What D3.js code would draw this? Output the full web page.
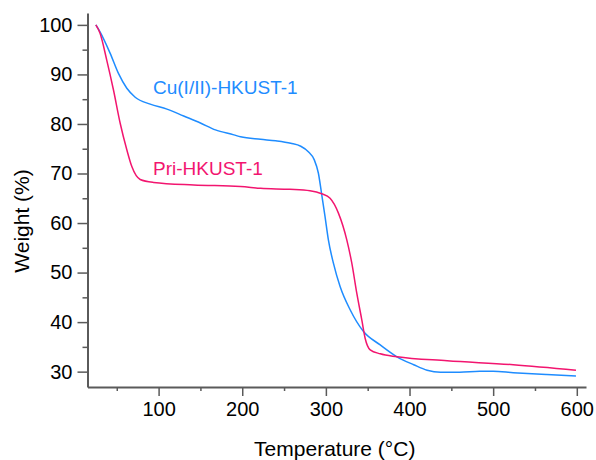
<!DOCTYPE html>
<html>
<head>
<meta charset="utf-8">
<script src="https://cdn.jsdelivr.net/npm/d3@7"></script>
<style>
body { margin: 0; background: #fff; }
text { font-family: "Liberation Sans", Arial, sans-serif; }
</style>
</head>
<body>
<script>
// readings: temperature (°C) and weight (%)
const cuT = [25, 30, 42, 52, 62, 72, 90, 110, 130, 150, 168, 190, 198, 222, 240, 258, 270, 279, 286, 291, 295, 299, 303, 309, 317, 329, 345, 365, 385, 405, 421, 437, 460, 484, 500, 524, 564, 599];
const cuW = [100, 98.6, 94.3, 90.2, 87.2, 85.4, 84.0, 83.0, 81.6, 80.2, 78.8, 77.8, 77.4, 76.9, 76.6, 76.1, 75.5, 74.4, 72.8, 70.1, 65.8, 61.3, 56.6, 51.9, 47.2, 42.5, 38.1, 35.4, 33.0, 31.4, 30.3, 29.9, 29.9, 30.1, 30.1, 29.8, 29.4, 29.1];

const priT = [25, 30, 38, 46, 54, 62, 68, 78, 94, 142, 198, 222, 257, 281, 295, 305, 315, 325, 331, 337, 343, 347, 353, 365, 385, 445, 524, 599];
const priW = [100, 98.3, 92.9, 86.9, 80.2, 74.8, 71.4, 68.8, 68.2, 67.7, 67.4, 67.0, 66.8, 66.5, 65.9, 65.0, 62.0, 56.6, 51.9, 45.8, 40.4, 36.7, 34.4, 33.6, 33.0, 32.2, 31.4, 30.3];

const xMajor = [100, 200, 300, 400, 500, 600];
const xMinor = [50, 150, 250, 350, 450, 550];
const yMajor = [30, 40, 50, 60, 70, 80, 90, 100];
const yMinor = [35, 45, 55, 65, 75, 85, 95];

const series = [
  {name: "Cu(I/II)-HKUST-1", t: cuT, w: cuW, color: "#1e8cff", lx: 153, lw: 86.1},
  {name: "Pri-HKUST-1", t: priT, w: priW, color: "#f2156f", lx: 153, lw: 69.7}
];

const W = 596, H = 460;
const m = {left: 87.5, top: 13, right: 10, bottom: 73};

const svg = d3.select("body").append("svg")
  .attr("width", W).attr("height", H);

const x = d3.scaleLinear().domain([15, 611]).range([m.left, W - m.right]);
const y = d3.scaleLinear().domain([26.9, 102.4]).range([H - m.bottom, m.top]);

const axisColor = "#5a5a5a";

function style(g, major) {
  g.selectAll(".tick line").attr("stroke", axisColor).attr("stroke-width", 1.5);
  g.selectAll(".tick text").attr("fill", "#000").attr("font-size", "20px")
    .attr("font-family", "Liberation Sans, Arial, sans-serif");
  g.select(".domain").attr("stroke", axisColor).attr("stroke-width", 2);
  if (!major) g.select(".domain").remove();
}

// x axis
svg.append("g")
  .attr("transform", "translate(0," + (H - m.bottom) + ")")
  .call(d3.axisBottom(x).tickValues(xMinor).tickSize(4).tickSizeOuter(0).tickFormat(""))
  .call(g => style(g, false));
svg.append("g")
  .attr("transform", "translate(0," + (H - m.bottom) + ")")
  .call(d3.axisBottom(x).tickValues(xMajor).tickSize(9).tickSizeOuter(0).tickPadding(6))
  .call(g => style(g, true));

// y axis
svg.append("g")
  .attr("transform", "translate(" + m.left + ",0)")
  .call(d3.axisLeft(y).tickValues(yMinor).tickSize(5).tickSizeOuter(0).tickFormat(""))
  .call(g => style(g, false));
svg.append("g")
  .attr("transform", "translate(" + m.left + ",0)")
  .call(d3.axisLeft(y).tickValues(yMajor).tickSize(10).tickSizeOuter(0).tickPadding(5))
  .call(g => style(g, true));

// axis titles
svg.append("text")
  .attr("x", (m.left + W - m.right) / 2 - 2)
  .attr("y", 456)
  .attr("text-anchor", "middle")
  .attr("font-size", "21px")
  .text("Temperature (°C)");

svg.append("text")
  .attr("transform", "translate(29,221) rotate(-90)")
  .attr("text-anchor", "middle")
  .attr("font-size", "21px")
  .text("Weight (%)");

const line = d3.line()
  .x(d => x(d[0]))
  .y(d => y(d[1]))
  .curve(d3.curveMonotoneX);

series.forEach(s => {
  svg.append("path")
    .datum(d3.zip(s.t, s.w))
    .attr("fill", "none")
    .attr("stroke", s.color)
    .attr("stroke-width", 1.5)
    .attr("d", line);

  svg.append("text")
    .attr("x", s.lx)
    .attr("y", y(s.lw))
    .attr("fill", s.color)
    .attr("font-size", "19px")
    .text(s.name);
});
</script>
</body>
</html>
